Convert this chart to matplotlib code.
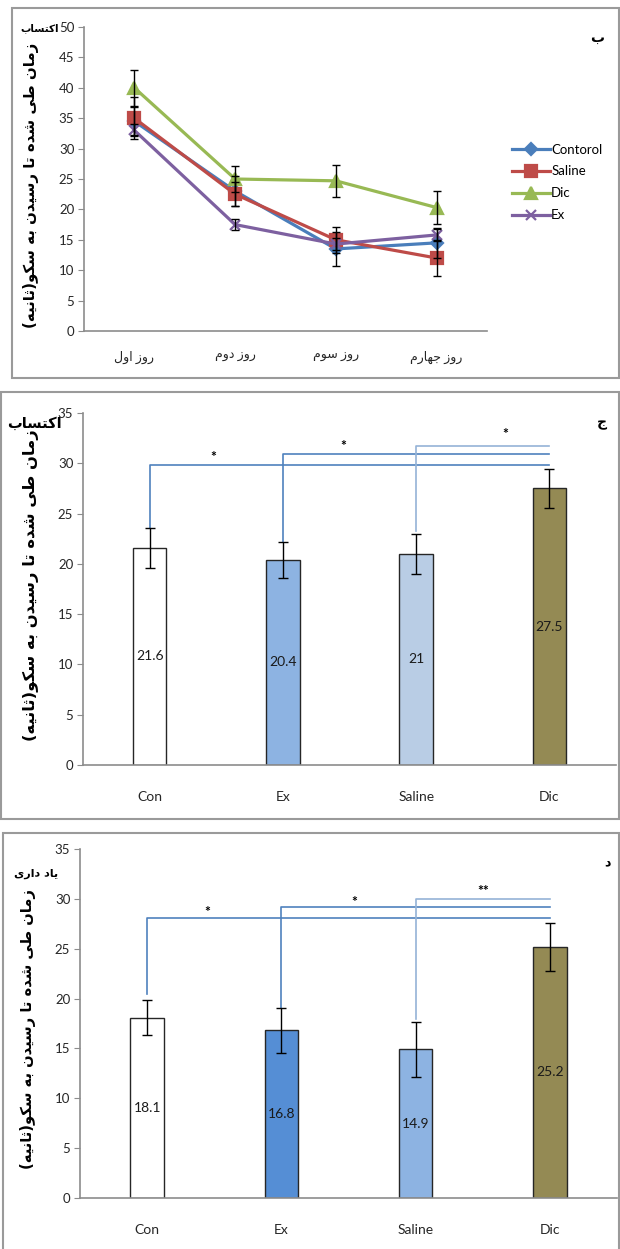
import numpy as np
import matplotlib
matplotlib.use("Agg")
import matplotlib.pyplot as plt
from matplotlib.patches import Rectangle

plt.rcParams["font.family"] = ["Lato", "DejaVu Sans"]

# --- data ---
days = ["روز اول", "روز دوم", "روز سوم", "روز جهارم"]
contorol = [34.5, 23.0, 13.5, 14.5]
contorol_err = [2.3, 2.5, 2.8, 2.5]
saline = [35.0, 22.5, 15.0, 12.0]
saline_err = [3.5, 2.0, 2.1, 3.0]
dic = [40.0, 25.0, 24.7, 20.3]
dic_err = [3.0, 2.2, 2.6, 2.7]
ex = [33.0, 17.5, 14.3, 15.8]
ex_err = [1.0, 0.85, 1.0, 1.0]

groups = ["Con", "Ex", "Saline", "Dic"]
acq_means = [21.6, 20.4, 21, 27.5]
acq_err = [2.0, 1.8, 2.0, 1.9]
ret_means = [18.1, 16.8, 14.9, 25.2]
ret_err = [1.8, 2.3, 2.8, 2.4]

ylabel_text = "زمان طی شده تا رسیدن به سکو(ثانیه)"

# arabic letters: isolated, final, initial, medial
FORMS = {
    "ا": ("\uFE8D", "\uFE8E", None, None),
    "ب": ("\uFE8F", "\uFE90", "\uFE91", "\uFE92"),
    "ت": ("\uFE95", "\uFE96", "\uFE97", "\uFE98"),
    "ث": ("\uFE99", "\uFE9A", "\uFE9B", "\uFE9C"),
    "ج": ("\uFE9D", "\uFE9E", "\uFE9F", "\uFEA0"),
    "د": ("\uFEA9", "\uFEAA", None, None),
    "ر": ("\uFEAD", "\uFEAE", None, None),
    "ز": ("\uFEAF", "\uFEB0", None, None),
    "س": ("\uFEB1", "\uFEB2", "\uFEB3", "\uFEB4"),
    "ش": ("\uFEB5", "\uFEB6", "\uFEB7", "\uFEB8"),
    "ط": ("\uFEC1", "\uFEC2", "\uFEC3", "\uFEC4"),
    "ل": ("\uFEDD", "\uFEDE", "\uFEDF", "\uFEE0"),
    "م": ("\uFEE1", "\uFEE2", "\uFEE3", "\uFEE4"),
    "ن": ("\uFEE5", "\uFEE6", "\uFEE7", "\uFEE8"),
    "ه": ("\uFEE9", "\uFEEA", "\uFEEB", "\uFEEC"),
    "و": ("\uFEED", "\uFEEE", None, None),
    "ک": ("\uFB8E", "\uFB8F", "\uFB90", "\uFB91"),
    "ی": ("\uFBFC", "\uFBFD", "\uFBFE", "\uFBFF"),
}


def fa(text):
    # join letters and flip to visual order
    out = []
    for i, ch in enumerate(text):
        if ch not in FORMS:
            out.append(ch)
            continue
        prev = text[i - 1] if i > 0 else ""
        nxt = text[i + 1] if i + 1 < len(text) else ""
        jp = prev in FORMS and FORMS[prev][2] is not None
        jn = nxt in FORMS and FORMS[ch][2] is not None
        f = FORMS[ch]
        if jp and jn:
            out.append(f[3])
        elif jp:
            out.append(f[1])
        elif jn:
            out.append(f[2])
        else:
            out.append(f[0])
    s = "".join(out)[::-1]
    return s.translate(str.maketrans("()", ")("))


W, H = 620, 1249
fig = plt.figure(figsize=(W / 100, H / 100), dpi=100)


def fbox(x0, y0, x1, y1):
    return [x0 / W, 1 - y1 / H, (x1 - x0) / W, (y1 - y0) / H]


def frame(x0, y0, x1, y1):
    fig.patches.append(Rectangle((x0 / W, 1 - y1 / H), (x1 - x0) / W, (y1 - y0) / H,
                                 transform=fig.transFigure, fill=False,
                                 ec="#9a9a9a", lw=1.5))


def style(ax, top, step):
    for s in ["top", "right"]:
        ax.spines[s].set_visible(False)
    ax.spines["left"].set_color("#8c8c8c")
    ax.spines["bottom"].set_color("#8c8c8c")
    ax.spines["left"].set_linewidth(1.2)
    ax.spines["bottom"].set_linewidth(1.2)
    ax.set_ylim(0, top)
    ax.set_yticks(np.arange(0, top + 1, step))
    ax.tick_params(axis="y", length=4, color="#8c8c8c", labelsize=9.5, labelcolor="#262626", pad=3)
    ax.tick_params(axis="x", length=0)


def ptext(x, y, s, **kw):
    fig.text(x / W, 1 - y / H, s, **kw)


# --- panel 1: lines over four days ---
frame(12, 8, 619, 378)
ax1 = fig.add_axes(fbox(84, 27, 487, 331))
xs = np.arange(len(days))
series = [
    ("Contorol", contorol, contorol_err, "#4a7ebb", "D", 6),
    ("Saline", saline, saline_err, "#be4b48", "s", 8),
    ("Dic", dic, dic_err, "#98b954", "^", 8),
    ("Ex", ex, ex_err, "#7d60a0", "x", 7),
]
for name, vals, err, col, mk, ms in series:
    ax1.plot(xs, vals, color=col, lw=2.3, marker=mk, ms=ms, mew=1.6, label=name)
    ax1.errorbar(xs, vals, yerr=err, fmt="none", ecolor="black", elinewidth=1, capsize=3, zorder=5)
style(ax1, 50, 5)
ax1.set_xlim(-0.5, 3.5)
ax1.set_xticks(xs)
ax1.set_xticklabels([fa(d) for d in days], fontsize=9, color="#262626")
ax1.tick_params(axis="x", pad=14)
ax1.legend(loc="upper left", bbox_to_anchor=(505 / W, 1 - 137 / H), bbox_transform=fig.transFigure,
           frameon=False, fontsize=9.5, handlelength=2.9, handletextpad=0.1, labelspacing=0.75,
           borderpad=0)
ptext(31, 185, fa(ylabel_text), rotation=90, ha="center", va="center", fontsize=10.8,
      fontweight="bold", family="DejaVu Sans")
ptext(40, 28, fa("اکتساب"), ha="center", va="center", fontsize=7.5, fontweight="bold", family="DejaVu Sans")
ptext(597, 38, fa("ب"), ha="center", va="center", fontsize=10, fontweight="bold", family="DejaVu Sans")


# --- bar panels ---
def bar_panel(box, rect, means, errs, colors, brackets, stars):
    frame(*rect)
    ax = fig.add_axes(fbox(*box))
    xs = np.arange(len(groups))
    bars = ax.bar(xs, means, width=0.25, color=colors, edgecolor="#262626", lw=1.0, zorder=2)
    ax.errorbar(xs, means, yerr=errs, fmt="none", ecolor="black", elinewidth=1, capsize=3.5, zorder=4)
    ax.bar_label(bars, labels=[f"{m:g}" for m in means], label_type="center", fontsize=10,
                 color="#1a1a1a")
    for xi, y0, y1, col in brackets:
        ax.plot([xi, xi, 3], [y0, y1, y1], color=col, lw=1.2, zorder=3)
    for sx, sy, s in stars:
        ax.text(sx, sy, s, ha="center", va="center", fontsize=10, fontweight="bold")
    style(ax, 35, 5)
    ax.set_xlim(-0.5, 3.5)
    ax.set_xticks(xs)
    ax.set_xticklabels(groups, fontsize=10, color="#262626")
    ax.tick_params(axis="x", pad=19)
    return ax


ax2 = bar_panel((83, 413, 616, 765), (1, 392, 619, 819), acq_means, acq_err,
                ["white", "#8db3e2", "#b9cde5", "#948a54"],
                [(0, 23.6, 29.8, "#4f81bd"), (1, 22.2, 30.9, "#4f81bd"), (2, 23.3, 31.7, "#95b3d7")],
                [(0.48, 30.6, "*"), (1.45, 31.7, "*"), (2.67, 32.9, "*")])
ptext(31, 585, fa(ylabel_text), rotation=90, ha="center", va="center", fontsize=11.8,
      fontweight="bold", family="DejaVu Sans")
ptext(34, 423, fa("اکتساب"), ha="center", va="center", fontsize=10.5, fontweight="bold", family="DejaVu Sans")
ptext(602, 423, fa("ج"), ha="center", va="center", fontsize=10, fontweight="bold", family="DejaVu Sans")

ax3 = bar_panel((80, 849, 617, 1198), (3, 833, 619, 1255), ret_means, ret_err,
                ["white", "#558ed5", "#8db3e2", "#948a54"],
                [(0, 20.5, 28.1, "#4f81bd"), (1, 19.1, 29.2, "#4f81bd"), (2, 18.0, 30.0, "#95b3d7")],
                [(0.45, 28.7, "*"), (1.54, 29.7, "*"), (2.5, 30.8, "**")])
ptext(28, 1029, fa(ylabel_text), rotation=90, ha="center", va="center", fontsize=10.6,
      fontweight="bold", family="DejaVu Sans")
ptext(36, 874, fa("یاد داری"), ha="center", va="center", fontsize=8, fontweight="bold", family="DejaVu Sans")
ptext(607, 862, fa("د"), ha="center", va="center", fontsize=9, fontweight="bold", family="DejaVu Sans")

plt.savefig("out.png", dpi=100)
